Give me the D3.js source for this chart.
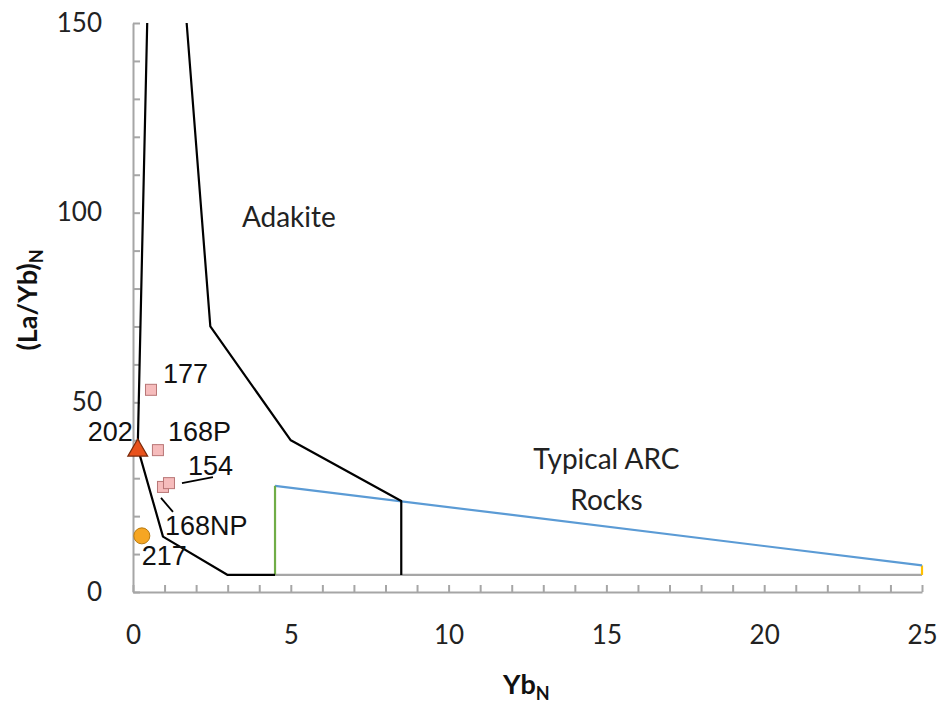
<!DOCTYPE html>
<html>
<head>
<meta charset="utf-8">
<script src="https://cdn.jsdelivr.net/npm/d3@7"></script>
<style>
  body { margin: 0; background: #fff; }
  svg { display: block; }
</style>
</head>
<body>
<div class="container"></div>
<script>
// field boundaries, [YbN, (La/Yb)N]
var adakiteLeft = [[0.45, 150], [0.15, 38], [0.95, 14.6], [3, 4.5], [4.5, 4.5]];
var adakiteRight = [[1.7, 150], [2.45, 70], [5, 40], [8.5, 24], [8.5, 4.5]];
var arcBase = [[4.5, 4.5], [25, 4.5]];
var arcTop = [[4.5, 28], [25, 7]];
var arcLeft = [[4.5, 4.5], [4.5, 28]];
var arcRight = [[25, 4.5], [25, 7]];

// samples
var sampleNames = ['177', '168P', '154', '168NP', '217', '202'];
var sampleYb = [0.57, 0.79, 1.14, 0.95, 0.28, 0.15];
var sampleLaYb = [53.3, 37.4, 28.7, 27.7, 14.8, 37.6];
var sampleKind = ['square', 'square', 'square', 'square', 'circle', 'triangle'];

var xTicks = d3.range(0, 26, 1);
var yTicks = d3.range(0, 151, 10);

var W = 947, H = 705;
var margin = {left: 133, right: 25, top: 23, bottom: 113};

var svg = d3.select('.container').append('svg')
  .attr('width', W)
  .attr('height', H);

var x = d3.scaleLinear().domain([0, 25]).range([margin.left, W - margin.right]);
var y = d3.scaleLinear().domain([0, 150]).range([H - margin.bottom, margin.top]);

var tickFont = 'Lato, "Open Sans", sans-serif';

// axes
var yAxis = d3.axisLeft(y).tickValues(yTicks).tickSize(-7).tickSizeOuter(0).tickPadding(31)
  .tickFormat(function (d) { return d % 50 === 0 ? d : ''; });
var xAxis = d3.axisBottom(x).tickValues(xTicks).tickSize(-7).tickSizeOuter(0).tickPadding(34)
  .tickFormat(function (d) { return d % 5 === 0 ? d : ''; });

var gy = svg.append('g').attr('transform', 'translate(' + margin.left + ',0)').call(yAxis);
var gx = svg.append('g').attr('transform', 'translate(0,' + y(0) + ')').call(xAxis);

[gx, gy].forEach(function (g) {
  g.selectAll('path, line').attr('stroke', '#a6a6a6').attr('stroke-width', 2);
  g.selectAll('text').attr('fill', '#222').style('font-family', tickFont).style('font-size', '26px');
});

// boundary lines
var line = d3.line().x(function (d) { return x(d[0]); }).y(function (d) { return y(d[1]); });

var boundaries = [
  {pts: arcBase, color: '#a6a6a6'},
  {pts: arcRight, color: '#ffc000'},
  {pts: arcTop, color: '#5b9bd5'},
  {pts: arcLeft, color: '#70ad47'},
  {pts: adakiteLeft, color: '#000'},
  {pts: adakiteRight, color: '#000'}
];

svg.append('g').selectAll('path').data(boundaries).enter().append('path')
  .attr('d', function (d) { return line(d.pts); })
  .attr('fill', 'none')
  .attr('stroke', function (d) { return d.color; })
  .attr('stroke-width', 2.2)
  .attr('stroke-linejoin', 'round');

// field names
var fieldFont = 'Lato, sans-serif';
svg.append('text').attr('x', x(3.45)).attr('y', y(96.2))
  .style('font-family', fieldFont).style('font-size', '28px').attr('fill', '#222')
  .text('Adakite');
svg.append('text').attr('x', x(15.0)).attr('y', y(32.3)).attr('text-anchor', 'middle')
  .style('font-family', fieldFont).style('font-size', '28px').attr('fill', '#222')
  .text('Typical ARC');
svg.append('text').attr('x', x(15.0)).attr('y', y(21.5)).attr('text-anchor', 'middle')
  .style('font-family', fieldFont).style('font-size', '28px').attr('fill', '#222')
  .text('Rocks');

// samples
var samples = sampleNames.map(function (n, i) {
  return {name: n, yb: sampleYb[i], la: sampleLaYb[i], kind: sampleKind[i]};
});

// label placement relative to marker (pixels)
var labelPos = {
  '177': {dx: 12, dy: -7, anchor: 'start'},
  '168P': {dx: 10, dy: -9, anchor: 'start'},
  '154': {dx: 19, dy: -8, anchor: 'start', lead: [13, 0, 44, -6]},
  '168NP': {dx: 2, dy: 48, anchor: 'start', lead: [-2, 11, 10, 25]},
  '217': {dx: 0, dy: 29, anchor: 'start'},
  '202': {dx: -5, dy: -8, anchor: 'end'}
};

var sym = svg.append('g');
// draw 168NP before 154 so it sits behind
var order = ['177', '168P', '168NP', '154', '217', '202'];
samples.sort(function (a, b) { return order.indexOf(a.name) - order.indexOf(b.name); });

samples.forEach(function (d) {
  var cx = x(d.yb), cy = y(d.la);
  if (d.kind === 'square') {
    sym.append('rect').attr('x', cx - 5.5).attr('y', cy - 5.5).attr('width', 11).attr('height', 11)
      .attr('fill', '#f6bcbc').attr('stroke', '#b87676').attr('stroke-width', 1);
  } else if (d.kind === 'circle') {
    sym.append('circle').attr('cx', cx).attr('cy', cy).attr('r', 8)
      .attr('fill', '#f6a623').attr('stroke', '#b87a10').attr('stroke-width', 1);
  } else {
    sym.append('path').attr('d', d3.symbol().type(d3.symbolTriangle).size(170)())
      .attr('transform', 'translate(' + cx + ',' + (cy + 1) + ')')
      .attr('fill', '#e8521c').attr('stroke', '#7a2a0a').attr('stroke-width', 1.2);
  }
  var p = labelPos[d.name];
  if (p.lead) {
    sym.append('line')
      .attr('x1', cx + p.lead[0]).attr('y1', cy + p.lead[1])
      .attr('x2', cx + p.lead[2]).attr('y2', cy + p.lead[3])
      .attr('stroke', '#000').attr('stroke-width', 1.8);
  }
  sym.append('text').attr('x', cx + p.dx).attr('y', cy + p.dy)
    .attr('text-anchor', p.anchor)
    .style('font-family', '"Liberation Sans", Arial, sans-serif').style('font-size', '27px')
    .attr('fill', '#111')
    .text(d.name);
});

// axis titles
var yt = svg.append('text').attr('transform', 'translate(37,300) rotate(-90)')
  .attr('text-anchor', 'middle')
  .style('font-family', fieldFont).style('font-size', '27px').style('font-weight', 'bold').attr('fill', '#111');
yt.append('tspan').text('(La/Yb)');
yt.append('tspan').attr('dy', 6).style('font-size', '18px').text('N');

var xt = svg.append('text').attr('x', 503).attr('y', 694)
  .style('font-family', fieldFont).style('font-size', '27px').style('font-weight', 'bold').attr('fill', '#111');
xt.append('tspan').text('Yb');
xt.append('tspan').attr('dy', 6).style('font-size', '18px').text('N');
</script>
</body>
</html>
